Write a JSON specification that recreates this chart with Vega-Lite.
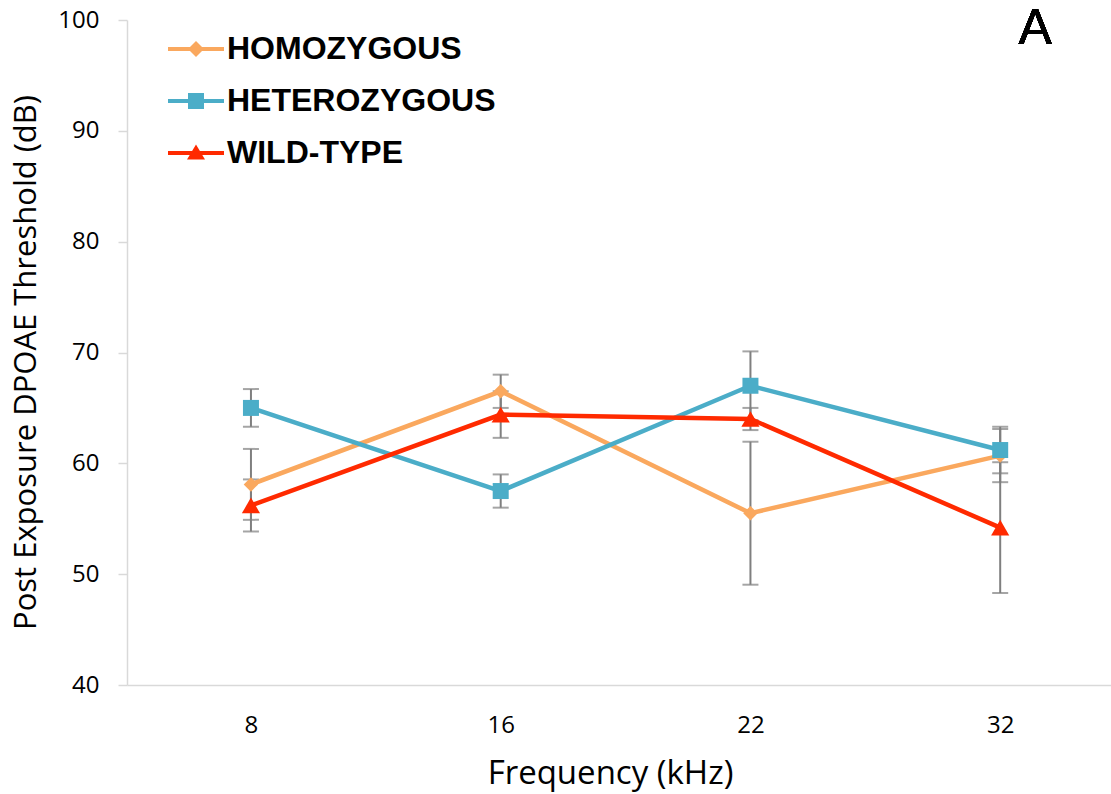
{
  "$schema": "https://vega.github.io/schema/vega-lite/v6.json",
  "width": 984,
  "height": 665,
  "autosize": {"type": "none"},
  "padding": {"left": 127, "top": 20, "right": 0, "bottom": 109},
  "background": "white",
  "data": {"values": [
    {"freq": "8", "group": "HOMOZYGOUS", "mean": 58.1, "err": 3.2},
    {"freq": "16", "group": "HOMOZYGOUS", "mean": 66.5, "err": 1.5},
    {"freq": "22", "group": "HOMOZYGOUS", "mean": 55.5, "err": 6.45},
    {"freq": "32", "group": "HOMOZYGOUS", "mean": 60.7, "err": 2.4},
    {"freq": "8", "group": "HETEROZYGOUS", "mean": 65.0, "err": 1.7},
    {"freq": "16", "group": "HETEROZYGOUS", "mean": 57.5, "err": 1.5},
    {"freq": "22", "group": "HETEROZYGOUS", "mean": 67.0, "err": 3.1},
    {"freq": "32", "group": "HETEROZYGOUS", "mean": 61.2, "err": 2.1},
    {"freq": "8", "group": "WILD-TYPE", "mean": 56.2, "err": 2.35},
    {"freq": "16", "group": "WILD-TYPE", "mean": 64.4, "err": 2.1},
    {"freq": "22", "group": "WILD-TYPE", "mean": 64.0, "err": 1.0},
    {"freq": "32", "group": "WILD-TYPE", "mean": 54.2, "err": 5.9}
  ]},
  "encoding": {
    "x": {"field": "freq", "type": "ordinal", "sort": ["8", "16", "22", "32"],
      "scale": {"type": "point", "padding": 0.47, "align": 0.528},
      "axis": {"title": "Frequency (kHz)", "labelAngle": 0, "ticks": false, "grid": false,
        "domainColor": "#d9d9d9", "domainWidth": 1.5, "labelFont": "Open Sans", "labelFontSize": 24, "labelColor": "#000000", "labelPadding": 28,
        "titleFont": "Open Sans", "titleFontSize": 33, "titleFontWeight": "normal", "titleColor": "#000000", "titleX": 483, "titleY": 98, "titleBaseline": "alphabetic"}},
    "y": {"field": "mean", "type": "quantitative", "scale": {"domain": [40, 100]},
      "title": "Post Exposure DPOAE Threshold (dB)",
      "axis": {"values": [40, 50, 60, 70, 80, 90, 100], "grid": false,
        "domainColor": "#d9d9d9", "domainWidth": 1.5, "tickColor": "#d9d9d9", "tickWidth": 1.5, "tickSize": 9,
        "labelFont": "Open Sans", "labelFontSize": 24, "labelColor": "#000000", "labelPadding": 19,
        "titleFont": "Open Sans", "titleFontSize": 31, "titleFontWeight": "normal", "titleColor": "#000000",
        "titleX": -92, "titleY": 342, "titleBaseline": "alphabetic"}}
  },
  "layer": [
    {
      "mark": {"type": "errorbar", "color": "#7f7f7f", "rule": {"strokeWidth": 2}, "ticks": {"size": 16, "thickness": 2, "color": "#7f7f7f"}},
      "encoding": {
        "yError": {"field": "err"},
        "detail": {"field": "group"}
      }
    },
    {
      "mark": {"type": "line", "strokeWidth": 4.5},
      "encoding": {
        "color": {"field": "group", "type": "nominal"}
      }
    },
    {
      "transform": [{"filter": "datum.group === 'HOMOZYGOUS'"}],
      "mark": {"type": "point", "filled": true, "opacity": 1, "strokeWidth": 0, "shape": "diamond", "size": 210},
      "encoding": {
        "color": {"field": "group", "type": "nominal",
          "scale": {"domain": ["HOMOZYGOUS", "HETEROZYGOUS", "WILD-TYPE"], "range": ["#FAA85E", "#4BADC8", "#FF2A00"]},
          "legend": {"title": null, "orient": "none", "legendX": 53, "legendY": 13, "padding": 0,
            "labelFont": "Liberation Sans", "labelFontWeight": "bold", "labelFontSize": 32, "labelColor": "#000000", "labelLimit": 0,
            "symbolSize": 400, "labelOffset": 15, "rowPadding": 20, "symbolStrokeWidth": 0,
            "symbolType": {"expr": "datum.value === 'HOMOZYGOUS' ? 'M-2.8,-0.2H2.8V0.2H-2.8Z M0,-0.8L0.8,0L0,0.8L-0.8,0Z' : datum.value === 'HETEROZYGOUS' ? 'M-2.8,-0.2H2.8V0.2H-2.8Z M-0.8,-0.8H0.8V0.8H-0.8Z' : 'M-2.8,-0.2H2.8V0.2H-2.8Z M0,-0.85L0.9,0.65H-0.9Z'"}}}
      }
    },
    {
      "transform": [{"filter": "datum.group === 'HETEROZYGOUS'"}],
      "mark": {"type": "point", "filled": true, "opacity": 1, "strokeWidth": 0, "shape": "square", "size": 256},
      "encoding": {"color": {"field": "group", "type": "nominal"}}
    },
    {
      "transform": [{"filter": "datum.group === 'WILD-TYPE'"}],
      "mark": {"type": "point", "filled": true, "opacity": 1, "strokeWidth": 0, "shape": "triangle-up", "size": 330},
      "encoding": {"color": {"field": "group", "type": "nominal"}}
    },
    {
      "mark": {"type": "text", "text": "A", "font": "Liberation Sans", "fontSize": 50, "fontWeight": "normal", "fill": "#000000", "strokeWidth": 0, "align": "center", "baseline": "alphabetic", "dx": 35},
      "encoding": {
        "x": {"datum": "32"},
        "y": {"datum": 97.84}
      }
    }
  ],
  "config": {"view": {"stroke": null}}
}
